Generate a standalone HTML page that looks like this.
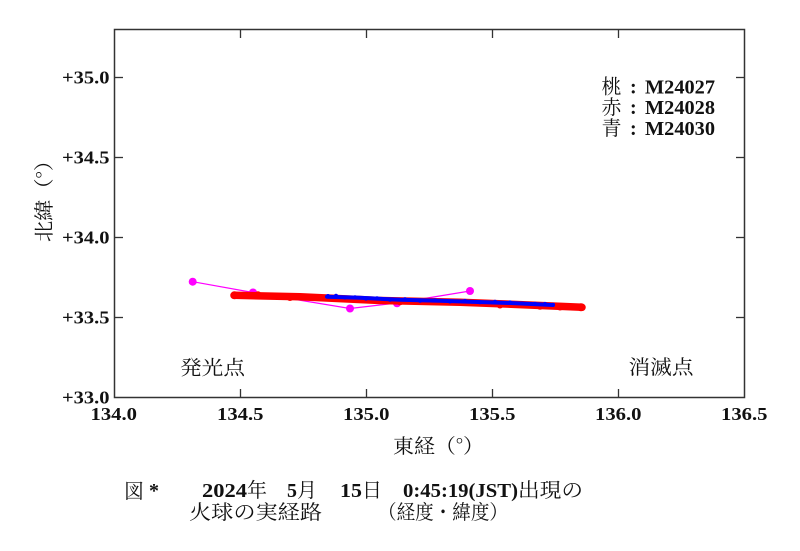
<!DOCTYPE html>
<html><head><meta charset="utf-8">
<style>
html,body{margin:0;padding:0;background:#fff;}
svg{display:block;}
.tk{font-family:"Liberation Serif","Noto Serif CJK SC",serif;font-weight:bold;font-size:18px;fill:#111;}
.jp{font-family:"Noto Serif CJK SC","Liberation Serif",serif;font-size:20px;fill:#111;}
.b{font-family:"Liberation Serif",serif;font-weight:bold;font-size:20px;fill:#111;}
</style></head>
<body>
<svg width="800" height="551" viewBox="0 0 800 551" xmlns="http://www.w3.org/2000/svg">
<rect width="800" height="551" fill="#fff"/>
<!-- frame -->
<rect x="114.5" y="29.5" width="630" height="368" fill="none" stroke="#333" stroke-width="1.5"/>
<g stroke="#333" stroke-width="1.3">
  <line x1="240.5" y1="397.5" x2="240.5" y2="389"/><line x1="240.5" y1="29.5" x2="240.5" y2="38"/>
  <line x1="366.5" y1="397.5" x2="366.5" y2="389"/><line x1="366.5" y1="29.5" x2="366.5" y2="38"/>
  <line x1="492.5" y1="397.5" x2="492.5" y2="389"/><line x1="492.5" y1="29.5" x2="492.5" y2="38"/>
  <line x1="618.5" y1="397.5" x2="618.5" y2="389"/><line x1="618.5" y1="29.5" x2="618.5" y2="38"/>
  <line x1="114.5" y1="317.5" x2="123" y2="317.5"/><line x1="744.5" y1="317.5" x2="736" y2="317.5"/>
  <line x1="114.5" y1="237.5" x2="123" y2="237.5"/><line x1="744.5" y1="237.5" x2="736" y2="237.5"/>
  <line x1="114.5" y1="157.5" x2="123" y2="157.5"/><line x1="744.5" y1="157.5" x2="736" y2="157.5"/>
  <line x1="114.5" y1="77.5" x2="123" y2="77.5"/><line x1="744.5" y1="77.5" x2="736" y2="77.5"/>
</g>
<!-- y tick labels -->
<text class="tk" x="62" y="83.5" textLength="47.5" lengthAdjust="spacingAndGlyphs">+35.0</text>
<text class="tk" x="62" y="163.5" textLength="47.5" lengthAdjust="spacingAndGlyphs">+34.5</text>
<text class="tk" x="62" y="243.5" textLength="47.5" lengthAdjust="spacingAndGlyphs">+34.0</text>
<text class="tk" x="62" y="323.5" textLength="47.5" lengthAdjust="spacingAndGlyphs">+33.5</text>
<text class="tk" x="62" y="403.5" textLength="47.5" lengthAdjust="spacingAndGlyphs">+33.0</text>
<!-- x tick labels -->
<text class="tk" x="90.5" y="420" textLength="46.5" lengthAdjust="spacingAndGlyphs">134.0</text>
<text class="tk" x="217" y="420" textLength="46.5" lengthAdjust="spacingAndGlyphs">134.5</text>
<text class="tk" x="343" y="420" textLength="46.5" lengthAdjust="spacingAndGlyphs">135.0</text>
<text class="tk" x="469" y="420" textLength="46.5" lengthAdjust="spacingAndGlyphs">135.5</text>
<text class="tk" x="595" y="420" textLength="46.5" lengthAdjust="spacingAndGlyphs">136.0</text>
<text class="tk" x="721" y="420" textLength="46.5" lengthAdjust="spacingAndGlyphs">136.5</text>
<!-- axis labels -->
<text class="jp" x="393" y="453" font-size="21" textLength="91" lengthAdjust="spacingAndGlyphs">東経（°）</text>
<text class="jp" transform="translate(51,242) rotate(-90)" x="0" y="0" font-size="20" textLength="92" lengthAdjust="spacingAndGlyphs">北緯（°）</text>
<!-- annotations -->
<text class="jp" x="180" y="374.5" font-size="21" textLength="65" lengthAdjust="spacingAndGlyphs">発光点</text>
<text class="jp" x="628.5" y="374" font-size="21" textLength="65" lengthAdjust="spacingAndGlyphs">消滅点</text>
<!-- legend -->
<text class="jp" x="601.5" y="93.5" font-size="20">桃</text>
<text class="b" x="630" y="93.5">:</text>
<text class="b" x="645" y="93.5" textLength="70" lengthAdjust="spacingAndGlyphs">M24027</text>
<text class="jp" x="601.5" y="114" font-size="20">赤</text>
<text class="b" x="630" y="114">:</text>
<text class="b" x="645" y="114" textLength="70" lengthAdjust="spacingAndGlyphs">M24028</text>
<text class="jp" x="601.5" y="135" font-size="20">青</text>
<text class="b" x="630" y="135">:</text>
<text class="b" x="645" y="135" textLength="70" lengthAdjust="spacingAndGlyphs">M24030</text>
<!-- magenta series -->
<polyline points="192.7,281.7 253,292.5 350,308.5 397,303 470,291" fill="none" stroke="#ff00ff" stroke-width="1.2"/>
<g fill="#ff00ff">
  <circle cx="192.7" cy="281.7" r="4"/>
  <circle cx="253" cy="292.5" r="4"/>
  <circle cx="350" cy="308.5" r="4"/>
  <circle cx="397" cy="303.3" r="4"/>
  <circle cx="470" cy="291" r="4"/>
</g>
<!-- red series -->
<polyline points="234,295.3 300,296.8 380,300.5 460,302.3 520,304.6 582,307.3" fill="none" stroke="#ff0000" stroke-width="7.5" stroke-linecap="round" stroke-linejoin="round"/>
<g fill="#ff0000">
  <circle cx="234.5" cy="295.3" r="4"/>
  <circle cx="581" cy="307.3" r="4"/>
  <circle cx="258" cy="294.8" r="3.5"/>
  <circle cx="290" cy="297.5" r="3.5"/>
  <circle cx="400" cy="301.8" r="3.5"/>
  <circle cx="500" cy="305" r="3.5"/>
  <circle cx="540" cy="306.3" r="3.5"/>
  <circle cx="560" cy="307" r="3.5"/>
</g>
<!-- blue series -->
<polyline points="327,296.7 360,297.8 400,299.8 440,300.8 470,301.7 510,303 553,305" fill="none" stroke="#0000ff" stroke-width="4" stroke-linecap="round" stroke-linejoin="round"/>
<g fill="#0000ff">
  <circle cx="328" cy="296.3" r="2.3"/>
  <circle cx="336" cy="295.8" r="2"/>
  <circle cx="345" cy="297.5" r="2"/>
  <circle cx="355" cy="297.3" r="2"/>
  <circle cx="366" cy="298.6" r="2"/>
  <circle cx="377" cy="298.2" r="2"/>
  <circle cx="390" cy="299.8" r="2"/>
  <circle cx="405" cy="299.3" r="2"/>
  <circle cx="420" cy="300.8" r="2"/>
  <circle cx="435" cy="300.2" r="2"/>
  <circle cx="450" cy="301.5" r="2"/>
  <circle cx="465" cy="300.9" r="2"/>
  <circle cx="480" cy="302.3" r="2"/>
  <circle cx="495" cy="301.8" r="2"/>
  <circle cx="510" cy="302.4" r="2"/>
  <circle cx="522" cy="303.5" r="2"/>
  <circle cx="535" cy="303.7" r="2"/>
  <circle cx="545" cy="303.9" r="2"/>
  <circle cx="553" cy="304.8" r="2"/>
</g>
<!-- caption -->
<text class="jp" x="124" y="498" font-size="20">図</text>
<text class="b" x="149" y="497">*</text>
<text class="b" x="202" y="497" textLength="45" lengthAdjust="spacingAndGlyphs">2024</text>
<text class="jp" x="247" y="497" font-size="20">年</text>
<text class="b" x="287" y="497">5</text>
<text class="jp" x="297" y="497" font-size="20">月</text>
<text class="b" x="340" y="497" textLength="22" lengthAdjust="spacingAndGlyphs">15</text>
<text class="jp" x="362" y="497" font-size="20">日</text>
<text class="b" x="403" y="497" textLength="115" lengthAdjust="spacingAndGlyphs">0:45:19(JST)</text>
<text class="jp" x="518" y="497" font-size="20" textLength="65" lengthAdjust="spacingAndGlyphs">出現の</text>
<text class="jp" x="189" y="519" font-size="20" textLength="133" lengthAdjust="spacingAndGlyphs">火球の実経路</text>
<text class="jp" x="378" y="519" font-size="20" textLength="130" lengthAdjust="spacingAndGlyphs">（経度・緯度）</text>
</svg>
</body></html>
